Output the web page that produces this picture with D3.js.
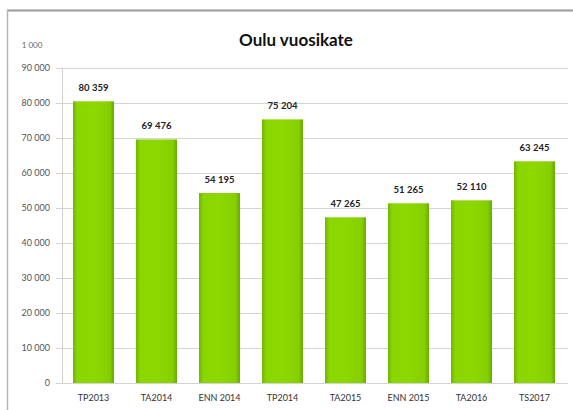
<!DOCTYPE html>
<html><head><meta charset="utf-8">
<script src="https://cdn.jsdelivr.net/npm/d3@7"></script>
<style>html,body{margin:0;padding:0;background:#fff;}svg{display:block;font-family:Lato,"Open Sans",sans-serif;}</style>
</head><body><svg id="c" width="573" height="410"></svg>
<script>
const categories = ["TP2013","TA2014","ENN 2014","TP2014","TA2015","ENN 2015","TA2016","TS2017"];
const values = [80359, 69476, 54195, 75204, 47265, 51265, 52110, 63245];
const valueLabels = ["80 359","69 476","54 195","75 204","47 265","51 265","52 110","63 245"];
const yTicks = [0,10000,20000,30000,40000,50000,60000,70000,80000,90000];
const yTickLabels = ["0","10 000","20 000","30 000","40 000","50 000","60 000","70 000","80 000","90 000"];
const title = "Oulu vuosikate";
const unitLabel = "1 000";

(function(){
const svg = d3.select("#c");
const pl = 62, pr = 566, pt = 67.5, pb = 383;
const x = d3.scaleBand().domain(categories).range([pl, pr]).paddingInner(0.35).paddingOuter(0.175);
const y = d3.scaleLinear().domain([0, 90000]).range([pb, pt]);

const defs = svg.append("defs");
const g = defs.append("linearGradient").attr("id","bar").attr("x1","0").attr("x2","1").attr("y1","0").attr("y2","0");
g.append("stop").attr("offset","0%").attr("stop-color","#6fb400");
g.append("stop").attr("offset","10%").attr("stop-color","#8ad600");
g.append("stop").attr("offset","50%").attr("stop-color","#8ed800");
g.append("stop").attr("offset","90%").attr("stop-color","#84cf00");
g.append("stop").attr("offset","100%").attr("stop-color","#66a800");

// frame
svg.append("line").attr("x1",7).attr("x2",573).attr("y1",10.5).attr("y2",10.5).attr("stroke","#9a9a9a").attr("stroke-width",2);
svg.append("line").attr("x1",7.5).attr("x2",7.5).attr("y1",10).attr("y2",410).attr("stroke","#b5b5b5").attr("stroke-width",1.5);

// title
svg.append("text").attr("x",296).attr("y",46).attr("text-anchor","middle")
  .attr("font-size",17).attr("font-weight","bold").attr("fill","#111").text(title);

// gridlines
svg.append("g").selectAll("line").data(yTicks).join("line")
  .attr("x1",pl-6).attr("x2",568).attr("y1",d=>Math.round(y(d))+0.5).attr("y2",d=>Math.round(y(d))+0.5)
  .attr("stroke","#d4d4d4").attr("stroke-width",1);
// axis line
svg.append("line").attr("x1",pl+0.5).attr("x2",pl+0.5).attr("y1",pt).attr("y2",pb).attr("stroke","#cfcfcf");

// y axis labels
const yAxis = d3.axisLeft(y).tickValues(yTicks).tickFormat((d,i)=>yTickLabels[i]).tickSize(0).tickPadding(12);
const ya = svg.append("g").attr("transform",`translate(${pl},0)`).call(yAxis);
ya.select(".domain").remove();
ya.selectAll("text").attr("font-size",9).attr("fill","#555").attr("font-family","Lato,sans-serif");

svg.append("text").attr("x",32).attr("y",48).attr("text-anchor","middle").attr("font-size",8).attr("fill","#666").text(unitLabel);

// bars
svg.append("g").selectAll("rect").data(values).join("rect")
  .attr("x",(d,i)=>x(categories[i])).attr("width",x.bandwidth())
  .attr("y",d=>y(d)).attr("height",d=>pb-y(d))
  .attr("fill","url(#bar)");

// value labels
svg.append("g").selectAll("text").data(values).join("text")
  .attr("x",(d,i)=>x(categories[i])+x.bandwidth()/2).attr("y",d=>y(d)-10)
  .attr("text-anchor","middle").attr("font-size",9.5).attr("font-weight","bold").attr("fill","#222")
  .text((d,i)=>valueLabels[i]);

// x axis labels
const xAxis = d3.axisBottom(x).tickSize(0).tickPadding(12);
const xa = svg.append("g").attr("transform",`translate(0,${pb})`).call(xAxis);
xa.select(".domain").remove();
xa.selectAll("text").attr("font-size",9).attr("fill","#333").attr("font-family","Lato,sans-serif");
})();
</script></body></html>
